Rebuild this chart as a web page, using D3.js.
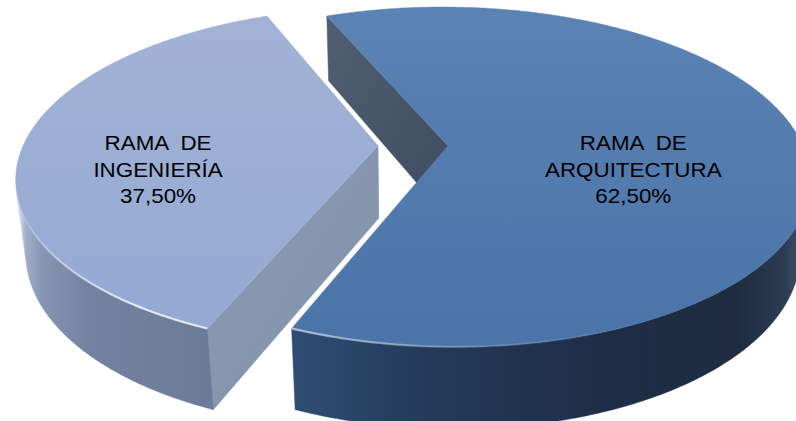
<!DOCTYPE html>
<html>
<head>
<meta charset="utf-8">
<script src="https://cdn.jsdelivr.net/npm/d3@7"></script>
<style>
  html, body { margin: 0; padding: 0; background: #ffffff; overflow: hidden; }
  text { white-space: pre; }
</style>
</head>
<body>
<svg id="chart" width="796" height="421"></svg>
<script>
// ---- data ----
const categories = ["RAMA  DE ARQUITECTURA", "RAMA  DE INGENIERÍA"];
const labelLines = [["RAMA  DE", "ARQUITECTURA"], ["RAMA  DE", "INGENIERÍA"]];
const values = [62.5, 37.5];

// ---- look ----
const topColors = [["#5b83b3", "#4a73a8"], ["#a3b3d6", "#93a8d2"]];
const sideStops = [
  [[104, "#5a6b81"], [110, "#3f5066"], [120, "#2c3c52"], [135, "#1f2c41"], [160, "#1e2e47"], [185, "#243b59"], [202.5, "#2f4d74"]],
  [[202.5, "#6b7b97"], [225, "#7282a0"], [240, "#8695b2"], [249, "#9fadc9"], [255, "#c4cfe3"]]
];
const wallColors = [["#515f72", "#3e4c60"], ["#8b9ab3", "#8292ab"]];
// rim highlight: [[angle, opacity], ...]
const rimStops = [
  [[150, 0], [175, 0.15], [195, 0.45], [202.5, 0.55]],
  [[202.5, 0.7], [215, 0.75], [235, 0.35], [250, 0.08], [256, 0.2]]
];
const labelRadius = [0.505, 0.60];

// perspective camera looking down on the pie
const cam = { s: 0.5, c: Math.sqrt(0.75), L: 4.84, f: 1676, cx: 413, cy: 218 };
const T = 0.235, R = 1, explode = 0.0986;
const camPos = [0, cam.L * cam.s, cam.L * cam.c];

function proj(X, Y, Z) {
  const zv = cam.L - Y * cam.s - Z * cam.c;
  const yv = Y * cam.c - Z * cam.s;
  return [cam.cx + cam.f * X / zv, cam.cy - cam.f * yv / zv];
}

const esFormat = d3.formatLocale({ decimal: ",", thousands: ".", grouping: [3], currency: ["", " €"] }).format(".2f");

const pie = d3.pie().sort(null).value(d => d)
  .startAngle(-Math.PI / 8).endAngle(2 * Math.PI - Math.PI / 8);
const arcs = pie(values);

const svg = d3.select("#chart");
const defs = svg.append("defs");
const line = d3.line();
const deg = Math.PI / 180;

const slices = arcs.map((a, i) => {
  const mid = (a.startAngle + a.endAngle) / 2;
  const ox = explode * Math.sin(mid), oz = -explode * Math.cos(mid);
  const pt = (ang, r, y) => proj(ox + r * Math.sin(ang), y, oz - r * Math.cos(ang));
  return { a, i, mid, ox, oz, pt };
});

const gSides = svg.append("g");
const gTops = svg.append("g");
const gRims = svg.append("g");
const gLabels = svg.append("g");

slices.forEach(s => {
  const { a, pt, ox, oz, i } = s;

  // gradients for top face and wall
  const g = defs.append("linearGradient").attr("id", "top" + i)
    .attr("gradientUnits", "userSpaceOnUse").attr("x1", 0).attr("y1", 0).attr("x2", 0).attr("y2", 350);
  g.append("stop").attr("offset", 0).attr("stop-color", topColors[i][0]);
  g.append("stop").attr("offset", 1).attr("stop-color", topColors[i][1]);
  const w = defs.append("linearGradient").attr("id", "wall" + i)
    .attr("x1", 0).attr("y1", 0).attr("x2", 1).attr("y2", 1);
  w.append("stop").attr("offset", 0).attr("stop-color", wallColors[i][0]);
  w.append("stop").attr("offset", 1).attr("stop-color", wallColors[i][1]);

  // radial walls facing the camera
  [[a.startAngle, -1], [a.endAngle, 1]].forEach(([ang, sign]) => {
    const nx = sign * Math.cos(ang), nz = sign * Math.sin(ang);
    if (nx * (camPos[0] - ox) + nz * (camPos[2] - oz) <= 0) return;
    const poly = [pt(ang, 0, T), pt(ang, R, T), pt(ang, R, 0), pt(ang, 0, 0)];
    gSides.append("path").attr("d", line(poly) + "Z")
      .attr("fill", `url(#wall${i})`).attr("stroke", `url(#wall${i})`).attr("stroke-width", 0.5);
  });

  // visible span of the curved outer side
  const angs = d3.range(0, 1.00001, 1 / 400).map(t => a.startAngle + t * (a.endAngle - a.startAngle));
  const vis = angs.filter(am => {
    const px = ox + Math.sin(am), pz = oz - Math.cos(am);
    return Math.sin(am) * (camPos[0] - px) - Math.cos(am) * (camPos[2] - pz) > 0;
  });
  if (vis.length > 1) {
    const topArc = vis.map(am => pt(am, R, T));
    const botArc = vis.map(am => pt(am, R, 0)).reverse();

    // horizontal shading along the side, stops placed at the projected x of each angle
    const stops = sideStops[i];
    const xs = stops.map(([d]) => pt(d * deg, R, T / 2)[0]);
    const x1 = xs[0], x2 = xs[xs.length - 1];
    const sg = defs.append("linearGradient").attr("id", "side" + i)
      .attr("gradientUnits", "userSpaceOnUse").attr("x1", x1).attr("y1", 0).attr("x2", x2).attr("y2", 0);
    stops.forEach(([d, col], k) => sg.append("stop")
      .attr("offset", Math.max(0, Math.min(1, (xs[k] - x1) / (x2 - x1)))).attr("stop-color", col));
    gSides.append("path").attr("d", line(topArc.concat(botArc)) + "Z")
      .attr("fill", `url(#side${i})`).attr("stroke", `url(#side${i})`).attr("stroke-width", 0.5);

    // bevel highlight on the rim
    const rs = rimStops[i];
    const rx = rs.map(([d]) => pt(d * deg, R, T)[0]);
    const rg = defs.append("linearGradient").attr("id", "rim" + i)
      .attr("gradientUnits", "userSpaceOnUse").attr("x1", rx[0]).attr("y1", 0).attr("x2", rx[rx.length - 1]).attr("y2", 0);
    rs.forEach(([d, op], k) => rg.append("stop")
      .attr("offset", Math.max(0, Math.min(1, (rx[k] - rx[0]) / (rx[rx.length - 1] - rx[0]))))
      .attr("stop-color", "#ffffff").attr("stop-opacity", op));
    gRims.append("path").attr("d", line(topArc)).attr("fill", "none")
      .attr("stroke", `url(#rim${i})`).attr("stroke-width", 2.2);
  }

  // top face
  const pts = [pt(0, 0, T)].concat(angs.map(am => pt(am, R, T)));
  gTops.append("path").attr("d", line(pts) + "Z")
    .attr("fill", `url(#top${i})`).attr("stroke", `url(#top${i})`).attr("stroke-width", 0.5);
});

// labels
slices.forEach(s => {
  const { mid, ox, oz, i } = s;
  const r = labelRadius[i];
  const p = proj(ox + r * Math.sin(mid), T, oz - r * Math.cos(mid) + 0.15);
  const lines = labelLines[i].concat([esFormat(values[i]) + "%"]);
  const t = gLabels.append("text")
    .attr("transform", `translate(${p[0]},${p[1] + 6}) scale(1.12,1)`)
    .attr("text-anchor", "middle")
    .attr("font-family", "'Liberation Sans', Arial, sans-serif")
    .attr("font-size", 20).attr("fill", "#000");
  const offs = [-27, 0, 25.5];
  lines.forEach((ln, k) => t.append("tspan").attr("x", 0).attr("y", offs[k]).text(ln));
});
</script>
</body>
</html>
